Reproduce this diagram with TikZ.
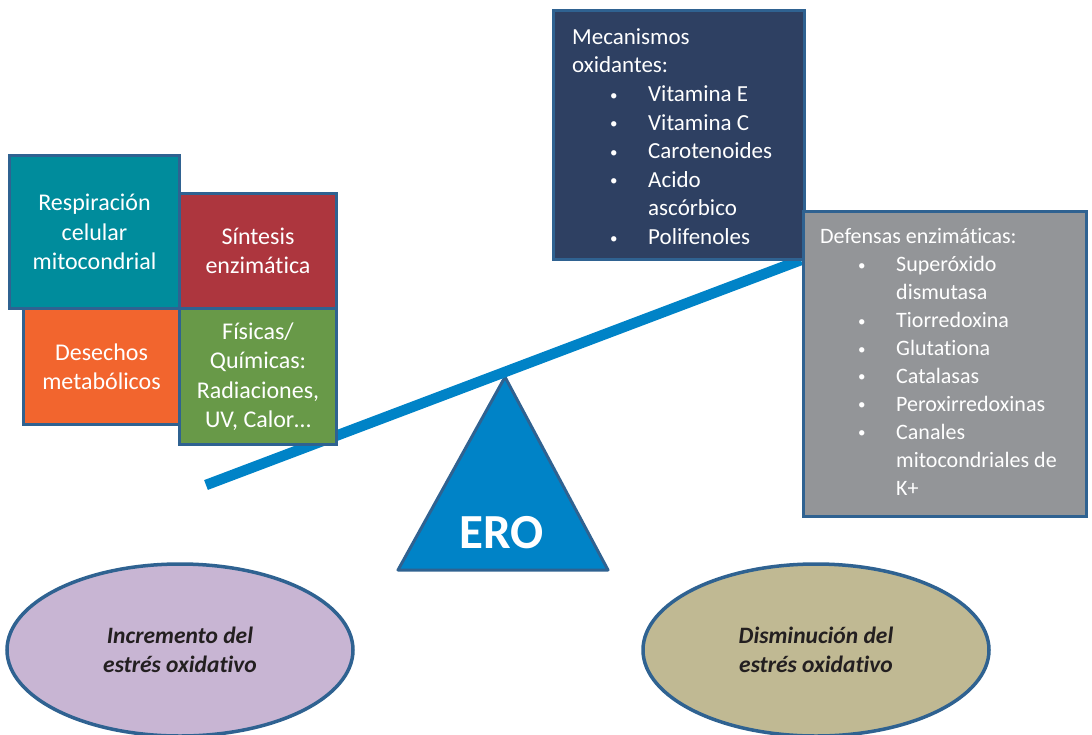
\documentclass[tikz,border=0pt]{standalone}
\usepackage{fontspec}
\setmainfont{Carlito}[Ligatures=NoCommon]
\usetikzlibrary{shapes.geometric}

\definecolor{edge}{RGB}{47,98,145}
\definecolor{tealbox}{RGB}{0,140,156}
\definecolor{redbox}{RGB}{173,54,62}
\definecolor{orangebox}{RGB}{242,101,46}
\definecolor{greenbox}{RGB}{104,153,72}
\definecolor{navybox}{RGB}{46,64,98}
\definecolor{graybox}{RGB}{147,149,152}
\definecolor{beamblue}{RGB}{0,131,199}
\definecolor{lilac}{RGB}{200,181,211}
\definecolor{khaki}{RGB}{192,185,147}
\definecolor{inkdark}{RGB}{35,31,32}

% bullet line and continuation line for the lists
\newcommand\smallbullet{\raisebox{1.5pt}{\fontsize{15}{15}\selectfont\textbullet}}
\newcommand\bul[1]{\hspace*{38pt}\makebox[38pt][l]{\smallbullet}#1}
\newcommand\cont[1]{\hspace*{76pt}#1}

\begin{document}
\begin{tikzpicture}[x=1pt,y=-1pt,
  box/.style={draw=edge, line width=3pt, anchor=north west, inner sep=0pt,
    text=white, align=center, font=\fontsize{24}{29.5}\selectfont},
  listtext/.style={anchor=base west, inner sep=0pt, text=white, align=left},
  beam/.style={draw=beamblue, line width=10.5pt},
  fulcrum/.style={draw=edge, fill=beamblue, line width=3pt, line join=round},
  oval/.style={ellipse, draw=edge, line width=3.5pt, minimum width=346pt,
    minimum height=172pt, inner sep=0pt, text=inkdark, align=center,
    font=\fontsize{23.5}{29.5}\selectfont\bfseries\itshape}]

\useasboundingbox (0,0) rectangle (1092,734);

% fulcrum
\coordinate (tl) at (398,570);
\coordinate (tt) at (505,377);
\coordinate (tr) at (608,570);
\draw[fulcrum] (tl) -- (tt) -- (tr) -- cycle;
\node[text=white, inner sep=0pt, font=\fontsize{49}{49}\selectfont\bfseries] (ero) at (502,533) {ERO};

% beam of the balance
\coordinate (bl) at (206,485);
\coordinate (br) at (801,260);
\draw[beam] (bl) -- (br);

% sources of oxidative stress
\node[box, fill=orangebox, minimum width=156pt, minimum height=116pt] (des) at (22,307) {Desechos\\metabólicos};
\node[box, fill=tealbox, minimum width=170pt, minimum height=153pt] (resp) at (8,154) {Respiración\\celular\\mitocondrial};
\node[box, fill=redbox, minimum width=157pt, minimum height=115pt] (sint) at (178,192) {Síntesis\\enzimática};
\node[box, fill=greenbox, minimum width=157pt, minimum height=136pt] (fis) at (178,307) {Físicas/\\Químicas:\\Radiaciones,\\UV, Calor…};

% antioxidant mechanisms (text placed by the baseline of its last line)
\node[box, fill=navybox, minimum width=251pt, minimum height=249pt] (mec) at (552,9) {};
\node[listtext, font=\fontsize{23}{28.6}\selectfont] (mectxt) at (572,244.5)
  {Mecanismos\\oxidantes:\\\bul{Vitamina E}\\\bul{Vitamina C}\\\bul{Carotenoides}\\\bul{Acido}\\\cont{ascórbico}\\\bul{Polifenoles}};

\node[box, fill=graybox, minimum width=283pt, minimum height=305pt] (def) at (802,210) {};
\node[listtext, font=\fontsize{22}{27.9}\selectfont] (deftxt) at (820,495)
  {Defensas enzimáticas:\\\bul{Superóxido}\\\cont{dismutasa}\\\bul{Tiorredoxina}\\\bul{Glutationa}\\\bul{Catalasas}\\\bul{Peroxirredoxinas}\\\bul{Canales}\\\cont{mitocondriales de}\\\cont{K+}};

% outcomes
\node[oval, fill=lilac] (inc) at (180,650) {Incremento del\\estrés oxidativo};
\node[oval, fill=khaki] (dis) at (816,650) {Disminución del\\estrés oxidativo};

\end{tikzpicture}
\end{document}
